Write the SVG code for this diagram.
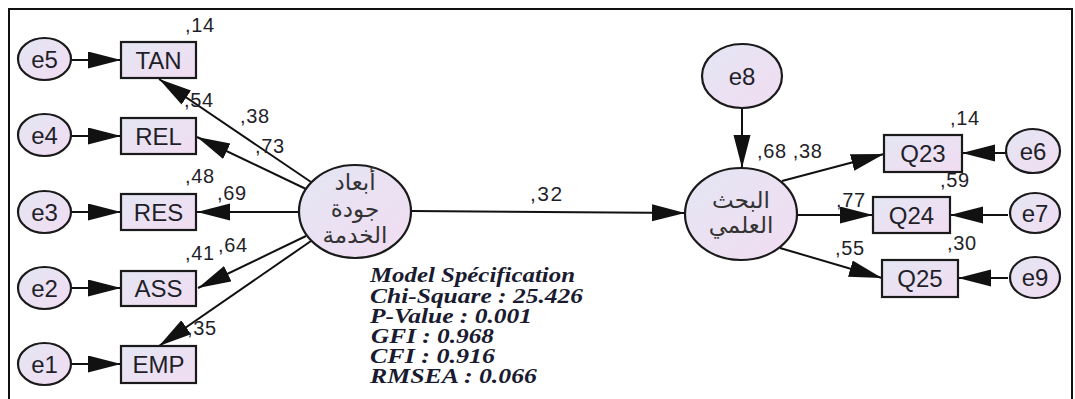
<svg xmlns="http://www.w3.org/2000/svg" width="1075" height="399" viewBox="0 0 1075 399">
  <defs>
    <linearGradient id="fillGrad" x1="0" y1="0" x2="1" y2="1">
      <stop offset="0" stop-color="#e3e6f3"/>
      <stop offset="1" stop-color="#f2dcf2"/>
    </linearGradient>
    <marker id="arrow" markerUnits="userSpaceOnUse" markerWidth="34" markerHeight="18" refX="33" refY="8.5" orient="auto">
      <path d="M0,0 L33,8.5 L0,17 Z" fill="#111"/>
    </marker>
  </defs>
  <style>
    .node { fill: url(#fillGrad); stroke: #1a1a1a; stroke-width: 2.2; }
    .lbl { font-family: "Liberation Sans", Arial, sans-serif; font-size: 24px; fill: #1f1f2a; text-anchor: middle; }
    .ar { font-family: "DejaVu Sans", "Noto Sans", sans-serif; font-size: 23px; fill: #333; text-anchor: middle; }
    .num { font-family: "Liberation Sans", Arial, sans-serif; font-size: 20px; fill: #1f1f2a; letter-spacing: 0.6px; }
    .edge { stroke: #111; stroke-width: 2; fill: none; marker-end: url(#arrow); }
    .spec { font-family: "Liberation Serif", "Times New Roman", serif; font-size: 20px; font-weight: bold; font-style: italic; fill: #1a1a30; }
  </style>

  <rect width="1075" height="399" fill="#ffffff"/>
  <!-- frame -->
  <rect x="9" y="9" width="1063" height="420" fill="none" stroke="#111" stroke-width="2"/>

  <!-- connectors -->
  <g id="connectors">
    <line class="edge" x1="71" y1="60" x2="121" y2="60"/>
    <line class="edge" x1="71" y1="136" x2="121" y2="136"/>
    <line class="edge" x1="71" y1="212" x2="121" y2="212"/>
    <line class="edge" x1="71" y1="288" x2="121" y2="288"/>
    <line class="edge" x1="71" y1="364" x2="121" y2="364"/>

    <line class="edge" x1="311" y1="182" x2="159" y2="79"/>
    <line class="edge" x1="306" y1="189" x2="197" y2="137"/>
    <line class="edge" x1="299" y1="212" x2="197" y2="212"/>
    <line class="edge" x1="306" y1="236" x2="198" y2="288"/>
    <line class="edge" x1="311" y1="241" x2="159" y2="346"/>

    <line class="edge" x1="411" y1="211" x2="685" y2="213"/>
    <line class="edge" x1="742" y1="108" x2="742" y2="168"/>

    <line class="edge" x1="782" y1="181" x2="884" y2="154"/>
    <line class="edge" x1="797" y1="215" x2="873" y2="215"/>
    <line class="edge" x1="780" y1="248" x2="882" y2="278"/>

    <line class="edge" x1="1006" y1="153" x2="962" y2="153"/>
    <line class="edge" x1="1008" y1="215" x2="950" y2="215"/>
    <line class="edge" x1="1008" y1="278" x2="958" y2="278"/>
  </g>

  <!-- error terms, left -->
  <g id="e5"><ellipse class="node" cx="44.5" cy="59" rx="26.5" ry="21"/><text class="lbl" x="44.5" y="67.5">e5</text></g>
  <g id="e4"><ellipse class="node" cx="44.5" cy="135" rx="26.5" ry="21"/><text class="lbl" x="44.5" y="143.5">e4</text></g>
  <g id="e3"><ellipse class="node" cx="44.5" cy="212" rx="26.5" ry="21"/><text class="lbl" x="44.5" y="220.5">e3</text></g>
  <g id="e2"><ellipse class="node" cx="44.5" cy="288" rx="26.5" ry="21"/><text class="lbl" x="44.5" y="296.5">e2</text></g>
  <g id="e1"><ellipse class="node" cx="44.5" cy="364" rx="26.5" ry="21"/><text class="lbl" x="44.5" y="372.5">e1</text></g>

  <!-- indicators, left -->
  <g id="TAN"><rect class="node" x="121" y="42" width="75" height="36"/><text class="lbl" x="158.5" y="68.5">TAN</text></g>
  <g id="REL"><rect class="node" x="121" y="118" width="75" height="36"/><text class="lbl" x="158.5" y="144.5">REL</text></g>
  <g id="RES"><rect class="node" x="121" y="194" width="75" height="36"/><text class="lbl" x="158.5" y="220.5">RES</text></g>
  <g id="ASS"><rect class="node" x="121" y="271" width="75" height="35"/><text class="lbl" x="158.5" y="297">ASS</text></g>
  <g id="EMP"><rect class="node" x="121" y="346" width="75" height="37"/><text class="lbl" x="158.5" y="373">EMP</text></g>

  <!-- latent: service quality dimensions -->
  <g id="quality">
    <ellipse class="node" cx="355" cy="211.5" rx="56" ry="46.5"/>
    <text class="ar" x="355" y="190" direction="rtl">أبعاد</text>
    <text class="ar" x="355" y="217" direction="rtl">جودة</text>
    <text class="ar" x="355" y="243" direction="rtl">الخدمة</text>
  </g>

  <!-- latent: scientific research -->
  <g id="research">
    <ellipse class="node" cx="741" cy="214" rx="56" ry="46"/>
    <text class="ar" x="741" y="208" direction="rtl">البحث</text>
    <text class="ar" x="741" y="233" direction="rtl">العلمي</text>
  </g>

  <g id="e8"><ellipse class="node" cx="742" cy="76" rx="40" ry="32"/><text class="lbl" x="742" y="84.5">e8</text></g>

  <!-- indicators, right -->
  <g id="Q23"><rect class="node" x="884" y="135" width="78" height="37"/><text class="lbl" x="923" y="162">Q23</text></g>
  <g id="Q24"><rect class="node" x="873" y="197" width="77" height="36"/><text class="lbl" x="911.5" y="223.5">Q24</text></g>
  <g id="Q25"><rect class="node" x="882" y="260" width="76" height="37"/><text class="lbl" x="920" y="287">Q25</text></g>

  <g id="e6"><ellipse class="node" cx="1033" cy="151" rx="27" ry="22"/><text class="lbl" x="1033" y="159.5">e6</text></g>
  <g id="e7"><ellipse class="node" cx="1035" cy="213" rx="25" ry="20"/><text class="lbl" x="1035" y="221.5">e7</text></g>
  <g id="e9"><ellipse class="node" cx="1035" cy="277.5" rx="25" ry="20.5"/><text class="lbl" x="1035" y="286">e9</text></g>

  <!-- estimates -->
  <g id="estimates">
    <text class="num" x="185" y="32">,14</text>
    <text class="num" x="184" y="107">,54</text>
    <text class="num" x="240" y="123">,38</text>
    <text class="num" x="255" y="153">,73</text>
    <text class="num" x="185" y="183">,48</text>
    <text class="num" x="217" y="200">,69</text>
    <text class="num" x="185" y="260">,41</text>
    <text class="num" x="218" y="252">,64</text>
    <text class="num" x="187" y="335">,35</text>
    <text class="num" x="530" y="201" style="font-size:21px;letter-spacing:1.5px">,32</text>
    <text class="num" x="757" y="158">,68 ,38</text>
    <text class="num" x="950" y="125">,14</text>
    <text class="num" x="940" y="187">,59</text>
    <text class="num" x="836" y="207">,77</text>
    <text class="num" x="947" y="250">,30</text>
    <text class="num" x="835" y="255">,55</text>
  </g>

  <!-- fit summary -->
  <g id="fit">
    <text class="spec" x="370" y="282" textLength="205" lengthAdjust="spacingAndGlyphs">Model Spécification</text>
    <text class="spec" x="370" y="303" textLength="213" lengthAdjust="spacingAndGlyphs">Chi-Square : 25.426</text>
    <text class="spec" x="370" y="323" textLength="162" lengthAdjust="spacingAndGlyphs">P-Value : 0.001</text>
    <text class="spec" x="371" y="343" textLength="123" lengthAdjust="spacingAndGlyphs">GFI : 0.968</text>
    <text class="spec" x="370" y="363" textLength="125" lengthAdjust="spacingAndGlyphs">CFI : 0.916</text>
    <text class="spec" x="370" y="383" textLength="167" lengthAdjust="spacingAndGlyphs">RMSEA : 0.066</text>
  </g>
</svg>
